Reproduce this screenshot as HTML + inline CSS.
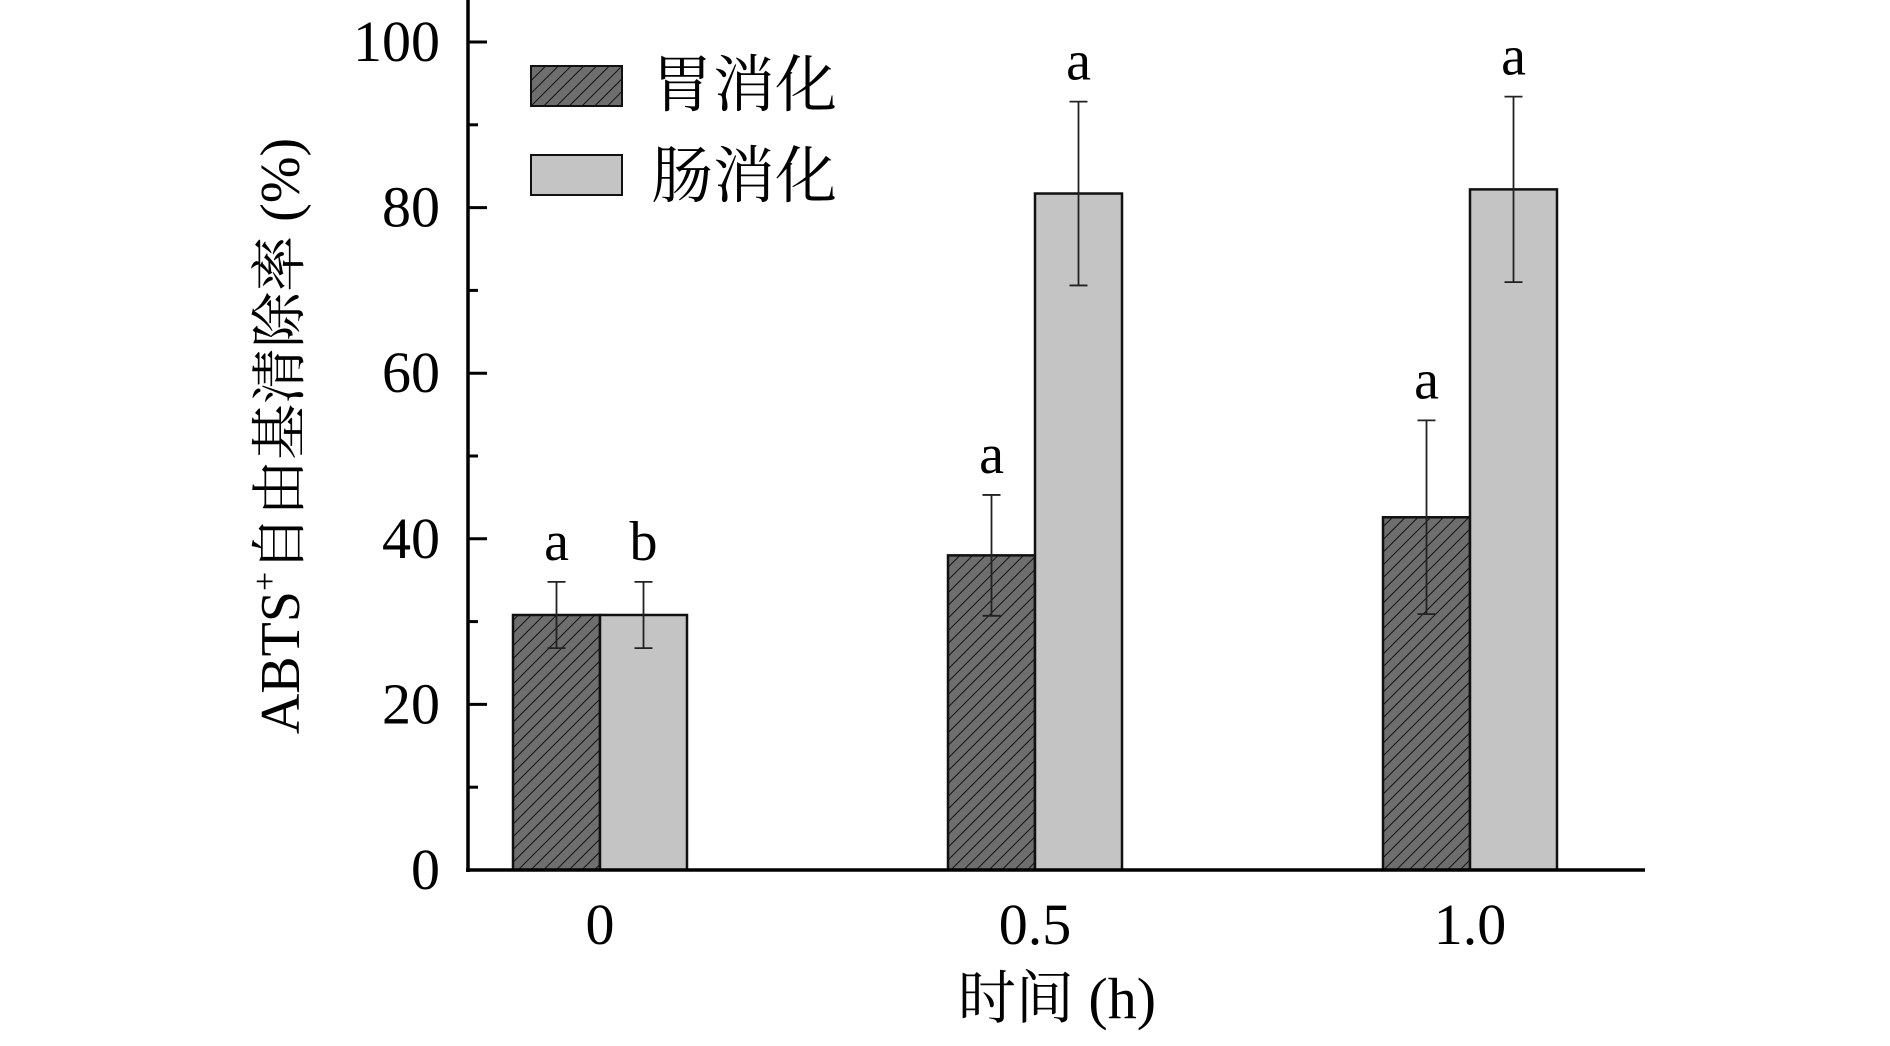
<!DOCTYPE html>
<html><head><meta charset="utf-8"><style>
body{margin:0;background:#fff}
svg{display:block}
text{font-family:"Liberation Serif","Noto Serif CJK SC",serif;fill:#000}
</style></head><body>
<svg id="chart" width="1890" height="1046" viewBox="0 0 1890 1046">
<defs>
<pattern id="hatch" width="9" height="9" patternUnits="userSpaceOnUse" patternTransform="rotate(45)">
<rect width="9" height="9" fill="#6e6e6e"/>
<line x1="0" y1="0" x2="0" y2="9" stroke="#111" stroke-width="2"/>
</pattern>
</defs>
<g id="plot"></g>
<text x="286" y="436" font-size="56" text-anchor="middle" dominant-baseline="middle" transform="rotate(-90 286 436)">ABTS<tspan font-size="34" dy="-18">+</tspan><tspan dy="18">自由基清除率 (%)</tspan></text>
<text x="1057" y="1018" font-size="58" text-anchor="middle">时间 (h)</text>
<g>
<rect x="531" y="66" width="91" height="40" fill="url(#hatch)" stroke="#111" stroke-width="2"/>
<text x="651" y="106" font-size="62">胃消化</text>
<rect x="531" y="155" width="91" height="40" fill="#c4c4c4" stroke="#111" stroke-width="2"/>
<text x="651" y="197" font-size="62">肠消化</text>
</g>
</svg>
<script>
const categories=["0","0.5","1.0"];
const gastric=[30.8,38.0,42.6];
const gastricErr=[4.0,7.3,11.7];
const intestinal=[30.8,81.7,82.2];
const intestinalErr=[4.0,11.1,11.2];
const gastricLetters=["a","a","a"];
const intestinalLetters=["b","a","a"];
const yTicks=[0,20,40,60,80,100];

const NS="http://www.w3.org/2000/svg";
const g=document.getElementById('plot');
const x0=468,x1=1645,y0=870,yTop=0;
const yScale=v=>y0-v*8.28;
const xCenter=i=>600+i*435;
const barW=87;
function mk(tag,attrs){const e=document.createElementNS(NS,tag);for(const k in attrs)e.setAttribute(k,attrs[k]);g.appendChild(e);return e;}

// minor ticks
for(let v=10;v<=100;v+=20){
 const t=mk('line',{x1:x0,x2:x0+10,y1:yScale(v),y2:yScale(v),stroke:'#000','stroke-width':3});
 
 
}
yTicks.forEach(v=>{
 const t=mk('line',{x1:x0,x2:x0+19,y1:yScale(v),y2:yScale(v),stroke:'#000','stroke-width':3});
 
 
 const l=mk('text',{x:440,y:yScale(v)+19,'font-size':58,'text-anchor':'end'});
 l.textContent=v;
 
 
});

function bar(i,val,err,letter,left,fill,name){
 const x=left?xCenter(i)-barW:xCenter(i);
 const r=mk('rect',{x:x,y:yScale(val),width:barW,height:y0-yScale(val),fill:fill,stroke:'#111','stroke-width':2.5});
 
 
 const cx=x+barW/2,yt=yScale(val+err),yb=yScale(val-err);
 const e=mk('path',{d:`M${cx},${yt}V${yb}M${cx-9},${yt}H${cx+9}M${cx-9},${yb}H${cx+9}`,stroke:'#222','stroke-width':1.8,fill:'none'});
 
 
 const t=mk('text',{x:cx,y:yt-22,'font-size':56,'text-anchor':'middle'});
 t.textContent=letter;
 
 
}
categories.forEach((c,i)=>{
 bar(i,gastric[i],gastricErr[i],gastricLetters[i],true,'url(#hatch)','gastric');
 bar(i,intestinal[i],intestinalErr[i],intestinalLetters[i],false,'#c4c4c4','intestinal');
 const l=mk('text',{x:xCenter(i),y:944,'font-size':58,'text-anchor':'middle'});
 l.textContent=c;
 
 
});
const ya=mk('line',{x1:x0,x2:x0,y1:yTop,y2:y0+2,stroke:'#000','stroke-width':3.5});


const xa=mk('line',{x1:x0-2,x2:x1,y1:y0,y2:y0,stroke:'#000','stroke-width':3.5});


</script>
</body></html>
